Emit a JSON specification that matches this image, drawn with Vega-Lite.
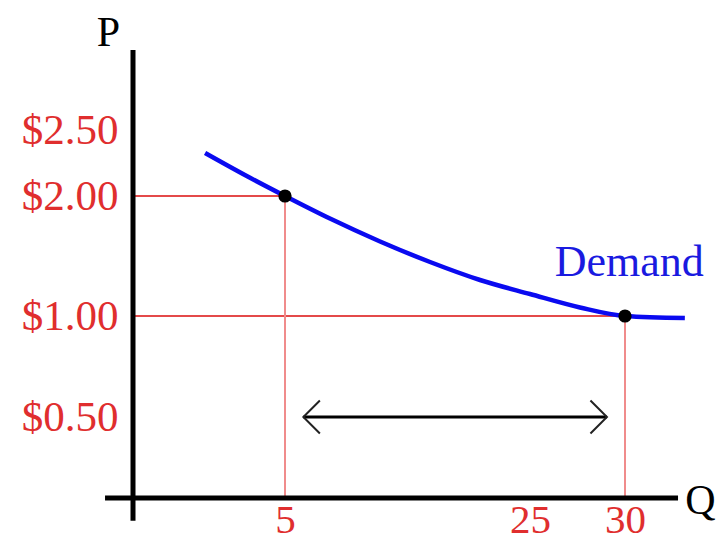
{
  "$schema": "https://vega.github.io/schema/vega-lite/v6.json",
  "width": 555,
  "height": 448,
  "autosize": {"type": "none"},
  "padding": {"left": 133, "top": 50, "right": 32, "bottom": 42},
  "background": "white",
  "config": {"view": {"stroke": null}, "font": "Liberation Serif"},
  "datasets": {
    "demand": [
      {"Q": 2.37, "P": 2.326},
      {"Q": 3.68, "P": 2.159},
      {"Q": 5, "P": 2.0},
      {"Q": 8.67, "P": 1.812},
      {"Q": 12.76, "P": 1.621},
      {"Q": 16.84, "P": 1.45},
      {"Q": 20.92, "P": 1.3},
      {"Q": 25, "P": 1.183},
      {"Q": 27.63, "P": 1.071},
      {"Q": 30, "P": 1.0},
      {"Q": 35.7, "P": 0.99}
    ],
    "points": [
      {"Q": 5, "P": 2.0},
      {"Q": 30, "P": 1.0}
    ],
    "arrow": [
      {"Q": 6.5, "Q2": 29.05, "P": 0.5}
    ],
    "note": [
      {"label": "Demand"}
    ],
    "blank": [{}]
  },
  "layer": [
    {
      "data": {"name": "points"},
      "mark": {"type": "rule", "color": "#e44a4a", "strokeWidth": 2},
      "encoding": {
        "x": {
          "field": "Q", "type": "quantitative",
          "scale": {"domain": [0, 5, 25, 30, 36], "range": [0, 152, 397, 492, 555], "nice": false, "zero": false},
          "axis": {
            "values": [5, 25, 30], "format": "d", "title": "Q",
            "titleAngle": 0, "titleX": 567, "titleY": 2, "titleAlign": "center", "titleBaseline": "middle",
            "titleFontSize": 42, "titleFontWeight": "normal", "titleColor": "black", "titleFont": "Liberation Serif",
            "domain": false, "ticks": false, "tickSize": 0, "grid": false,
            "labelColor": "#e02e2e", "labelFontSize": 41, "labelFont": "Liberation Serif",
            "labelPadding": 2, "labelOverlap": false, "labelFlush": false
          }
        },
        "x2": {"datum": 0},
        "y": {
          "field": "P", "type": "quantitative",
          "scale": {"domain": [0, 0.5, 1, 2, 2.5, 3], "range": [448, 367, 266, 146, 80, 0], "nice": false, "zero": false},
          "axis": {
            "values": [0.5, 1, 2, 2.5], "format": "$.2f", "title": "P",
            "titleAngle": 0, "titleX": -25, "titleY": -18, "titleAlign": "center", "titleBaseline": "middle",
            "titleFontSize": 42, "titleFontWeight": "normal", "titleColor": "black", "titleFont": "Liberation Serif",
            "domain": false, "ticks": false, "tickSize": 0, "grid": false,
            "labelColor": "#e02e2e", "labelFontSize": 43, "labelFont": "Liberation Serif",
            "labelPadding": 15, "labelOverlap": false
          }
        }
      }
    },
    {
      "data": {"name": "points"},
      "mark": {"type": "rule", "color": "#f08c8c", "strokeWidth": 2},
      "encoding": {
        "x": {"field": "Q", "type": "quantitative"},
        "y": {"field": "P", "type": "quantitative"},
        "y2": {"datum": 0}
      }
    },
    {
      "data": {"name": "blank"},
      "mark": {"type": "rule", "color": "black", "strokeWidth": 5},
      "encoding": {
        "x": {"datum": 0, "type": "quantitative"},
        "y": {"datum": -0.14, "type": "quantitative"},
        "y2": {"datum": 3}
      }
    },
    {
      "data": {"name": "blank"},
      "mark": {"type": "rule", "color": "black", "strokeWidth": 5},
      "encoding": {
        "y": {"datum": 0, "type": "quantitative"},
        "x": {"datum": -0.92, "type": "quantitative"},
        "x2": {"datum": 35.05}
      }
    },
    {
      "data": {"name": "arrow"},
      "mark": {"type": "rule", "color": "black", "strokeWidth": 3},
      "encoding": {
        "x": {"field": "Q", "type": "quantitative"},
        "x2": {"field": "Q2"},
        "y": {"field": "P", "type": "quantitative"}
      }
    },
    {
      "data": {"name": "arrow"},
      "mark": {"type": "point", "shape": "M1,-1L0,0L1,1", "filled": false, "stroke": "#222222", "strokeWidth": 2, "size": 1089, "opacity": 1},
      "encoding": {
        "x": {"field": "Q", "type": "quantitative"},
        "y": {"field": "P", "type": "quantitative"}
      }
    },
    {
      "data": {"name": "arrow"},
      "mark": {"type": "point", "shape": "M-1,-1L0,0L-1,1", "filled": false, "stroke": "#222222", "strokeWidth": 2, "size": 1089, "opacity": 1},
      "encoding": {
        "x": {"field": "Q2", "type": "quantitative"},
        "y": {"field": "P", "type": "quantitative"}
      }
    },
    {
      "data": {"name": "demand"},
      "mark": {"type": "line", "color": "#0a0af0", "strokeWidth": 4.5, "interpolate": "monotone"},
      "encoding": {
        "x": {"field": "Q", "type": "quantitative"},
        "y": {"field": "P", "type": "quantitative"}
      }
    },
    {
      "data": {"name": "points"},
      "mark": {"type": "point", "filled": true, "color": "black", "size": 175, "opacity": 1},
      "encoding": {
        "x": {"field": "Q", "type": "quantitative"},
        "y": {"field": "P", "type": "quantitative"}
      }
    },
    {
      "data": {"name": "note"},
      "mark": {"type": "text", "color": "#1a1ae0", "fontSize": 44, "font": "Liberation Serif", "align": "center", "baseline": "alphabetic"},
      "encoding": {
        "x": {"datum": 30.4, "type": "quantitative"},
        "y": {"datum": 1.33, "type": "quantitative"},
        "text": {"field": "label"}
      }
    }
  ]
}
